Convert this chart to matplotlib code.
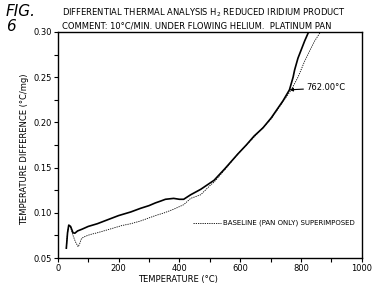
import matplotlib
matplotlib.use("Agg")
import matplotlib.pyplot as plt
from matplotlib.ticker import MultipleLocator

# sample curve (solid)
sample_t = [28, 32, 36, 42, 50, 56, 65, 80, 100, 130, 161, 200, 240, 272, 300,
            321, 338, 354, 381, 400, 414, 437, 448, 470, 492, 514, 550, 592,
            620, 646, 675, 702, 741, 762, 774, 779, 790, 812, 829]
sample_v = [0.061, 0.078, 0.0865, 0.085, 0.078, 0.0775, 0.080, 0.082, 0.085,
            0.088, 0.092, 0.097, 0.101, 0.105, 0.108, 0.111, 0.113, 0.115,
            0.116, 0.115, 0.115, 0.120, 0.122, 0.126, 0.131, 0.136, 0.149,
            0.165, 0.175, 0.185, 0.194, 0.205, 0.224, 0.236, 0.250, 0.258,
            0.271, 0.290, 0.303]

# baseline (pan only), dashed
base_t = [28, 32, 36, 42, 50, 58, 67, 72, 78, 90, 106, 130, 161, 211, 240, 272,
          321, 350, 381, 414, 437, 470, 503, 514, 550, 592, 646, 702, 741, 768,
          790, 812, 830, 845, 868, 875]
base_v = [0.061, 0.078, 0.086, 0.084, 0.075, 0.068, 0.0625, 0.066, 0.0718,
          0.074, 0.076, 0.078, 0.081, 0.086, 0.088, 0.091, 0.097, 0.100, 0.104,
          0.109, 0.116, 0.120, 0.131, 0.134, 0.148, 0.165, 0.184, 0.204, 0.223,
          0.236, 0.250, 0.2676, 0.280, 0.290, 0.302, 0.305]

peak_t = 762
peak_v = 0.236

fig = plt.figure(figsize=(3.73, 2.90), dpi=100)
ax = fig.add_axes([0.155, 0.110, 0.815, 0.780])

ax.plot(sample_t, sample_v, color='black', lw=1.2)
ax.plot(base_t, base_v, color='black', lw=0.6, linestyle=(0, (1.5, 1.2)))

ax.set_xlim(0, 1000)
ax.set_ylim(0.05, 0.30)
ax.xaxis.set_major_locator(MultipleLocator(200))
ax.xaxis.set_minor_locator(MultipleLocator(100))
ax.yaxis.set_major_locator(MultipleLocator(0.05))
ax.yaxis.set_minor_locator(MultipleLocator(0.025))
ax.yaxis.set_major_formatter(plt.FuncFormatter(lambda v, p: f'{v:.2f}'))
ax.tick_params(which='both', direction='out', length=3, width=0.8, labelsize=6, pad=1.5)
for s in ax.spines.values():
    s.set_linewidth(1.0)

ax.set_xlabel('TEMPERATURE (°C)', fontsize=6)
ax.xaxis.set_label_coords(0.395, -0.075)
ax.set_ylabel('TEMPERATURE DIFFERENCE (°C/mg)', fontsize=6)
ax.yaxis.set_label_coords(-0.095, 0.48)

# peak annotation
ax.annotate('762.00°C', xy=(peak_t, peak_v), xytext=(peak_t + 55, peak_v + 0.002),
            fontsize=6, va='center',
            arrowprops=dict(arrowstyle='-|>', color='black', lw=0.8, mutation_scale=5,
                            shrinkA=0, shrinkB=0))

# baseline key
ax.plot([444, 536], [0.0887, 0.0887], color='black', lw=0.6, linestyle=(0, (1.5, 1.2)))
ax.text(543, 0.0887, 'BASELINE (PAN ONLY) SUPERIMPOSED', fontsize=5, va='center')

fig.text(0.015, 0.985, 'FIG.\n6', fontsize=11, style='italic', va='top', linespacing=0.95)
fig.text(0.165, 0.955, 'DIFFERENTIAL THERMAL ANALYSIS H$_2$ REDUCED IRIDIUM PRODUCT',
         fontsize=6, va='center')
fig.text(0.165, 0.912, 'COMMENT: 10°C/MIN. UNDER FLOWING HELIUM.  PLATINUM PAN',
         fontsize=6, va='center')

fig.savefig('out.png', dpi=100)
